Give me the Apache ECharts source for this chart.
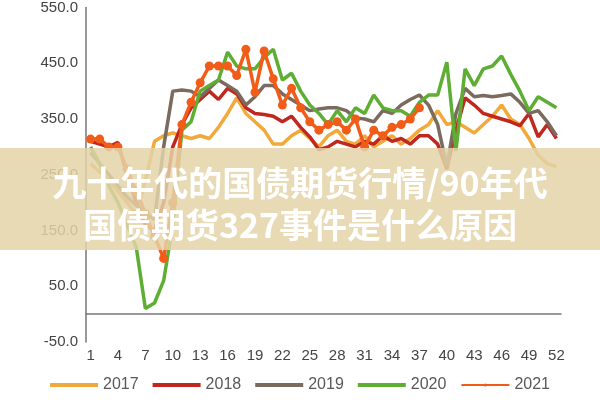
<!DOCTYPE html>
<html><head><meta charset="utf-8">
<script src="https://cdn.jsdelivr.net/npm/echarts@6/dist/echarts.min.js"></script>
<style>html,body{margin:0;padding:0;background:#fff}#c{width:600px;height:400px}</style>
</head><body><div id="c"></div>
<script>
const weeks = Array.from({length:52},(_, i)=>String(i+1));
const s2017 = [270,255,240,220,200,180,240,310,320,325,320,315,320,315,335,360,388,360,345,330,305,305,320,330,315,300,320,330,310,305,320,300,310,320,305,315,330,340,365,340,345,335,325,340,355,375,350,340,315,285,270,265];
const s2018 = [310,305,300,308,250,200,160,150,200,300,340,370,385,400,385,405,395,370,360,358,355,345,355,335,318,295,300,310,305,300,310,305,320,310,315,305,320,320,305,260,330,388,375,360,355,350,345,338,360,318,340,315];
const s2019 = [290,270,250,230,210,195,180,170,300,400,402,400,390,405,420,410,400,375,390,410,410,395,385,375,365,368,370,370,365,352,350,345,365,360,375,385,393,375,340,265,360,405,390,392,390,392,395,380,360,365,345,320];
const s2020 = [300,270,230,200,160,120,10,20,60,160,330,345,400,410,420,470,445,440,440,460,475,420,432,400,375,360,340,365,345,370,360,393,370,365,365,355,380,393,393,452,293,440,410,440,445,463,430,400,365,390,380,370];
const s2021 = [314,314,300,300,260,220,180,140,100,200,340,380,415,445,445,445,428,475,398,472,422,375,405,370,345,330,340,345,330,350,300,330,320,335,340,350,370];
const names = ['2017','2018','2019','2020','2021'];
const colors = ['#F2A93B','#C0271E','#7B6B5E','#5DAE32','#F25C19'];
const data = [s2017,s2018,s2019,s2020,s2021];
const chart = echarts.init(document.getElementById('c'));
chart.setOption({
  animation:false,
  grid:{left:86,right:39,top:3,bottom:58},
  legend:{bottom:2,left:'center',itemWidth:48,itemHeight:4,itemGap:14,
    textStyle:{fontSize:16,color:'#595959',fontFamily:'Liberation Sans'},
    data:names.map((n,i)=>({name:n,icon:i===4?undefined:'rect'}))},
  xAxis:[{type:'category',data:weeks,boundaryGap:true,
    axisLine:{onZero:true,lineStyle:{color:'#777',width:1.5}},
    axisTick:{interval:2,alignWithLabel:true,length:6,lineStyle:{color:'#777'}},
    axisLabel:{show:false}},
   {type:'category',data:weeks,boundaryGap:true,position:'bottom',
    axisLine:{show:false,onZero:false},axisTick:{show:false},
    axisLabel:{interval:2,fontSize:15,color:'#444',margin:6,fontFamily:'Liberation Sans'}}],
  yAxis:{type:'value',min:-50,max:550,interval:100,
    axisLine:{show:true,lineStyle:{color:'#777',width:1.5}},splitLine:{show:false},
    axisLabel:{fontSize:15,color:'#444',formatter:v=>v.toFixed(1),fontFamily:'Liberation Sans'}},
  series:data.map((d,i)=>({name:names[i],type:'line',data:d,xAxisIndex:0,
    lineStyle:{width:3.5,color:colors[i]},itemStyle:{color:colors[i]},
    symbol:i===4?'circle':'none',symbolSize:9,showSymbol:i===4,showAllSymbol:true})),
  graphic:[{type:'rect',shape:{x:0,y:148,width:600,height:102},
      style:{fill:'rgba(228,212,168,0.85)'},z:100},
    {type:'text',x:300,y:162,z:101,
      style:{text:'九十年代的国债期货行情/90年代\n国债期货327事件是什么原因',
      font:'bold 34px "Noto Sans CJK SC"',fill:'#fff',align:'center',textAlign:'center',lineHeight:42,
      shadowColor:'rgba(0,0,0,0.3)',shadowBlur:3}}]
});
</script></body></html>
